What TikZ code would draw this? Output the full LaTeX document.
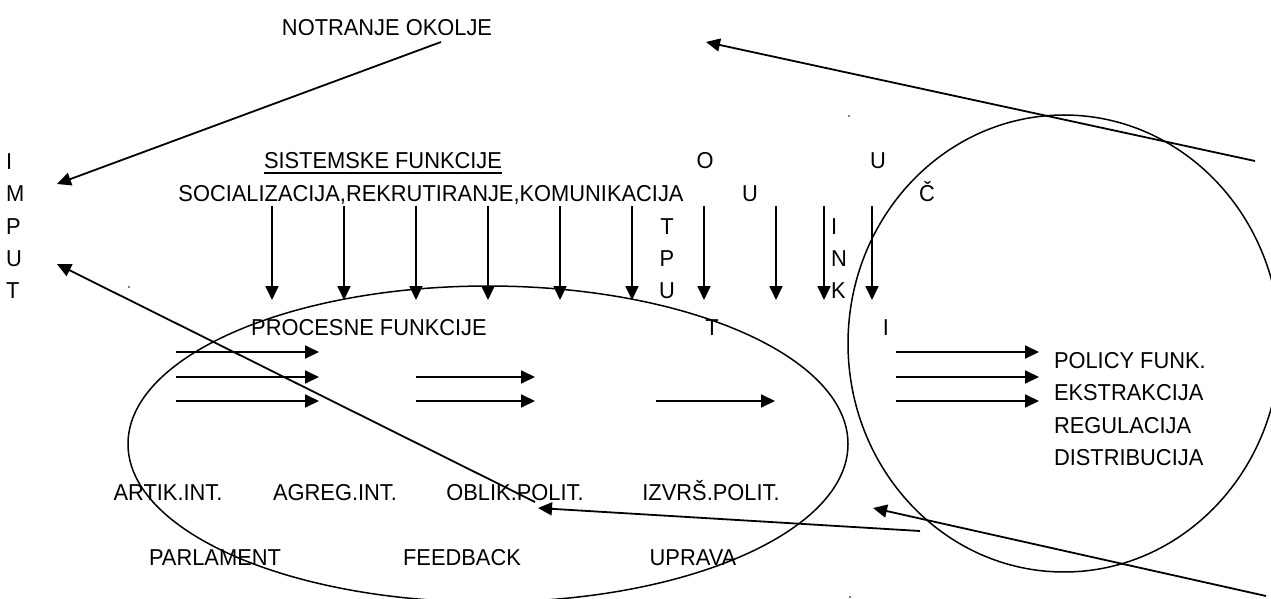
\documentclass[tikz,border=0pt]{standalone}
\usepackage{fontspec}
\setmainfont{Liberation Sans}[FakeStretch=0.95]
\usetikzlibrary{arrows.meta}
\begin{document}
\begin{tikzpicture}[x=1pt,y=-1pt,
  lbl/.style={inner sep=0pt, outer sep=0pt, anchor=base, font=\fontsize{23pt}{27pt}\selectfont},
  lblw/.style={lbl, anchor=base west},
  arr/.style={line width=1.8pt, -{Triangle[length=14pt,width=13pt]}},
  ring/.style={line width=1.5pt},
  speck/.style={fill=black, draw=none}]
\useasboundingbox (0,0) rectangle (1271,599);

% ---- ellipses ----
\draw[ring] (488,444) ellipse [x radius=360pt, y radius=158pt];
\draw[ring] (1064,343.5) ellipse [x radius=216pt, y radius=228.5pt];

% ---- texts ----
\node[lbl] (notr) at (387,36) {NOTRANJE OKOLJE};
\node[lblw] (imI) at (6,169) {I};
\node[lblw] (imM) at (6,201) {M};
\node[lblw] (imP) at (6,234) {P};
\node[lblw] (imU) at (6,266) {U};
\node[lblw] (imT) at (6,298) {T};
\node[lbl] (sist) at (383,168) {SISTEMSKE FUNKCIJE};
\draw[line width=1.3pt] ([yshift=-5pt]sist.base west) -- ([yshift=-5pt]sist.base east);
\node[lbl] (soc) at (431,201) {SOCIALIZACIJA,REKRUTIRANJE,KOMUNIKACIJA};

\node[lbl] (o1) at (705,168) {O};
\node[lbl] (o2) at (750,201) {U};
\node[lbl] (o3) at (667,234) {T};
\node[lbl] (o4) at (667,266) {P};
\node[lbl] (o5) at (667,298) {U};
\node[lbl] (o6) at (712,335) {T};

\node[lbl] (u1) at (878,168) {U};
\node[lbl] (u2) at (927,201) {Č};
\node[lblw] (u3) at (831,234) {I};
\node[lblw] (u4) at (831,266) {N};
\node[lblw] (u5) at (831,298) {K};
\node[lbl] (u6) at (886,335) {I};

\node[lbl] (proc) at (369,335) {PROCESNE FUNKCIJE};

\node[lblw] (pol) at (1054,368) {POLICY FUNK.};
\node[lblw] (eks) at (1054,400) {EKSTRAKCIJA};
\node[lblw] (reg) at (1054,433) {REGULACIJA};
\node[lblw] (dis) at (1054,465) {DISTRIBUCIJA};

\node[lbl] (art) at (168,500) {ARTIK.INT.};
\node[lbl] (agr) at (335,500) {AGREG.INT.};
\node[lbl] (obl) at (515,500) {OBLIK.POLIT.};
\node[lbl] (izv) at (711,500) {IZVRŠ.POLIT.};

\node[lbl] (parl) at (215,565) {PARLAMENT};
\node[lbl] (feed) at (462,565) {FEEDBACK};
\node[lbl] (upr) at (693,565) {UPRAVA};

% ---- vertical arrows ----
\foreach \x [count=\i] in {272,344,416,488,560,632,704,776,824,872} {
  \coordinate (vs\i) at (\x,206);
  \coordinate (ve\i) at (\x,300);
  \draw[arr] (vs\i) -- (ve\i);
}

% ---- horizontal arrows ----
\foreach \a/\b/\y [count=\i] in {176/319/352, 176/319/377, 176/319/401,
    416/535/377, 416/535/401, 656/775/401,
    896/1039/352, 896/1039/377, 896/1039/401} {
  \coordinate (hs\i) at (\a,\y);
  \coordinate (he\i) at (\b,\y);
  \draw[arr] (hs\i) -- (he\i);
}

% ---- long arrows ----
\coordinate (nA) at (441,42);   \coordinate (nB) at (57,184);
\coordinate (tA) at (1255,161); \coordinate (tB) at (706,42);
\coordinate (fA) at (535,502);  \coordinate (fB) at (57,264);
\coordinate (gA) at (920,531);  \coordinate (gB) at (538,508);
\coordinate (bA) at (1266,596); \coordinate (bB) at (873,508);
\draw[arr] (nA) -- (nB);
\draw[arr] (tA) -- (tB);
\draw[arr] (fA) -- (fB);
\draw[arr] (gA) -- (gB);
\draw[arr] (bA) -- (bB);

% ---- tiny specks ----
\fill[speck] (849,116) circle [radius=0.8pt];
\fill[speck] (129,287) circle [radius=0.8pt];
\fill[speck] (850,597) circle [radius=0.8pt];
\end{tikzpicture}
\end{document}
